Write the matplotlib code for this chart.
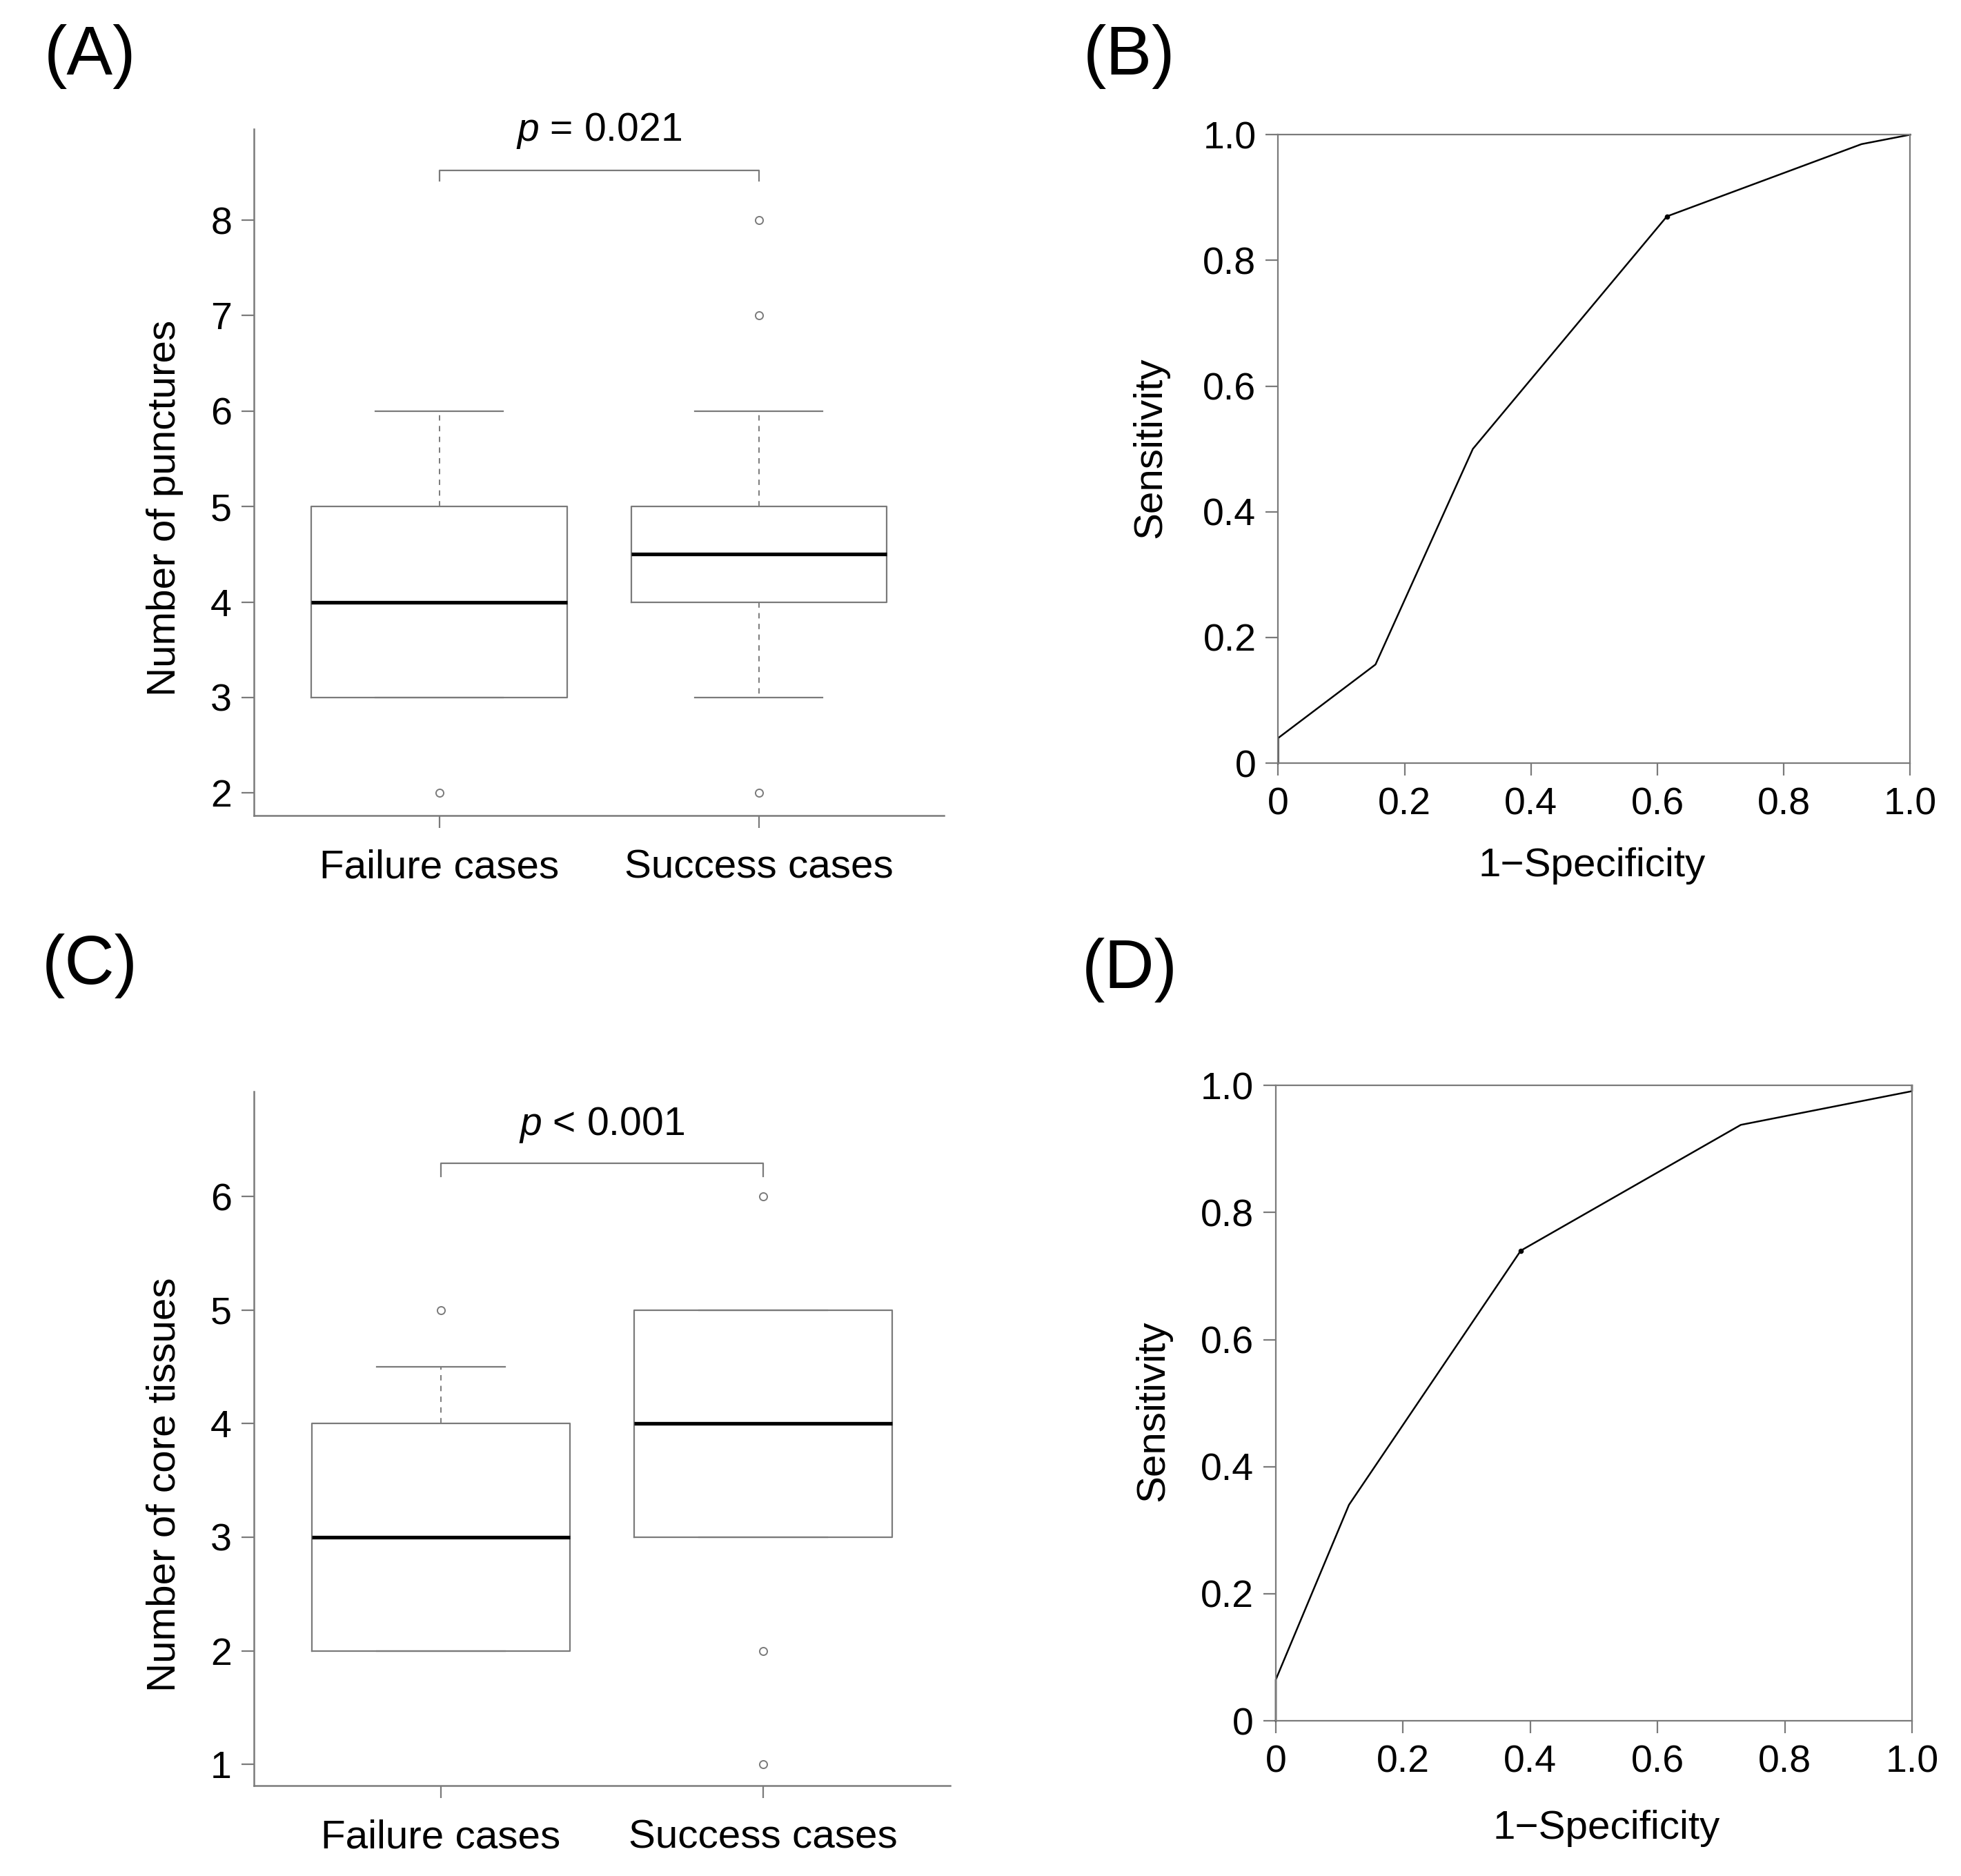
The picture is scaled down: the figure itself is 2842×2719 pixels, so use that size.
import matplotlib
matplotlib.use('Agg')
import matplotlib.pyplot as plt

plt.rcParams['font.family'] = ['Liberation Sans', 'DejaVu Sans']
plt.rcParams['mathtext.fontset'] = 'custom'
plt.rcParams['mathtext.it'] = 'Liberation Sans:italic'
plt.rcParams['mathtext.rm'] = 'Liberation Sans'

GRAY = '#7a7a7a'

groups = ['Failure cases', 'Success cases']

# (A) numero de punções
punct_q1 = [3, 4]
punct_med = [4, 4.5]
punct_q3 = [5, 5]
punct_lo = [3, 3]
punct_hi = [6, 6]
punct_out = [[2], [2, 7, 8]]
punct_ticks = [2, 3, 4, 5, 6, 7, 8]

# (C) numero de fragmentos
core_q1 = [2, 3]
core_med = [3, 4]
core_q3 = [4, 5]
core_lo = [2, 3]
core_hi = [4.5, 5]
core_out = [[5], [1, 2, 6]]
core_ticks = [1, 2, 3, 4, 5, 6]

# (B) e (D) curvas ROC
roc_b_fpr = [0, 0, 0.154, 0.308, 0.615, 0.923, 1.0]
roc_b_tpr = [0, 0.04, 0.157, 0.5, 0.87, 0.985, 1.0]
roc_b_cut = 4
roc_d_fpr = [0, 0, 0.115, 0.385, 0.731, 1.0, 1.0]
roc_d_tpr = [0, 0.065, 0.34, 0.74, 0.938, 0.991, 1.0]
roc_d_cut = 3
roc_ticks = [0, 0.2, 0.4, 0.6, 0.8, 1.0]
roc_labels = ['0', '0.2', '0.4', '0.6', '0.8', '1.0']

fig = plt.figure(figsize=(28.42, 27.19), dpi=100)


def box_panel(rect, q1, med, q3, lo, hi, out, yticks, ylim, ylab, lab_xy, ptext, br_y, br_tick, p_y):
    ax = fig.add_axes(rect)
    stats = [dict(q1=q1[i], med=med[i], q3=q3[i], whislo=lo[i], whishi=hi[i],
                  fliers=out[i], label=groups[i]) for i in range(2)]
    ax.bxp(stats, positions=[1, 2], widths=0.8, capwidths=0.4,
           boxprops=dict(color=GRAY, lw=1.6),
           medianprops=dict(color='black', lw=3.8, solid_capstyle='butt'),
           whiskerprops=dict(color=GRAY, lw=1.4, ls=(0, (4, 4))),
           capprops=dict(color=GRAY, lw=1.6),
           flierprops=dict(marker='o', mfc='none', mec=GRAY, ms=8, mew=1.4))
    ax.set_xlim(0.42, 2.58)
    ax.set_ylim(*ylim)
    ax.set_yticks(yticks)
    for s in ['top', 'right']:
        ax.spines[s].set_visible(False)
    for s in ['left', 'bottom']:
        ax.spines[s].set_color(GRAY)
        ax.spines[s].set_linewidth(1.8)
    ax.tick_params(axis='both', colors=GRAY, labelcolor='black', length=13, width=1.6)
    ax.tick_params(axis='y', labelsize=40, pad=10)
    ax.tick_params(axis='x', labelsize=42, pad=22)
    ax.set_ylabel(ylab, fontsize=42, va='center')
    ax.yaxis.set_label_coords(*lab_xy)
    ax.plot([1, 1, 2, 2], [br_tick, br_y, br_y, br_tick], color=GRAY, lw=1.6, clip_on=False)
    ax.text(1.5, p_y, ptext, ha='center', va='center', fontsize=41)
    return ax


def roc_panel(rect, fpr, tpr, cut, ylab_xy, xlab_xy):
    ax = fig.add_axes(rect)
    ax.plot(fpr, tpr, color='black', lw=1.8, clip_on=False)
    ax.plot(fpr[cut], tpr[cut], 'o', color='black', ms=4.5)
    ax.set_xlim(0, 1)
    ax.set_ylim(0, 1)
    ax.set_xticks(roc_ticks)
    ax.set_xticklabels(roc_labels)
    ax.set_yticks(roc_ticks)
    ax.set_yticklabels(roc_labels)
    for s in ax.spines.values():
        s.set_color(GRAY)
        s.set_linewidth(1.6)
    ax.tick_params(axis='both', colors=GRAY, labelcolor='black', length=13, width=1.6, labelsize=40)
    ax.tick_params(axis='y', pad=10)
    ax.tick_params(axis='x', pad=12)
    ax.set_ylabel('Sensitivity', fontsize=42, va='center')
    ax.yaxis.set_label_coords(*ylab_xy)
    ax.set_xlabel('1\u2212Specificity', fontsize=42, va='center')
    ax.xaxis.set_label_coords(*xlab_xy)
    return ax


box_panel([0.1295, 0.5653, 0.352, 0.366], punct_q1, punct_med, punct_q3, punct_lo, punct_hi,
          punct_out, punct_ticks, (1.764, 8.956), 'Number of punctures', (-0.129, 0.448),
          '$\\it{p}$ = 0.021', 8.52, 8.41, 8.94)
box_panel([0.1295, 0.0482, 0.355, 0.370], core_q1, core_med, core_q3, core_lo, core_hi,
          core_out, core_ticks, (0.813, 6.925), 'Number of core tissues', (-0.128, 0.434),
          '$\\it{p}$ < 0.001', 6.29, 6.18, 6.63)
roc_panel([0.6518, 0.5932, 0.3223, 0.335], roc_b_fpr, roc_b_tpr, roc_b_cut, (-0.202, 0.502), (0.497, -0.163))
roc_panel([0.6506, 0.0827, 0.3244, 0.3387], roc_d_fpr, roc_d_tpr, roc_d_cut, (-0.193, 0.488), (0.52, -0.169))

for lab, x, y in [('(A)', 0.046, 0.970), ('(B)', 0.576, 0.970), ('(C)', 0.046, 0.485), ('(D)', 0.576, 0.483)]:
    fig.text(x, y, lab, ha='center', va='center', fontsize=72)

fig.savefig('out.png', dpi=100, facecolor='white')
